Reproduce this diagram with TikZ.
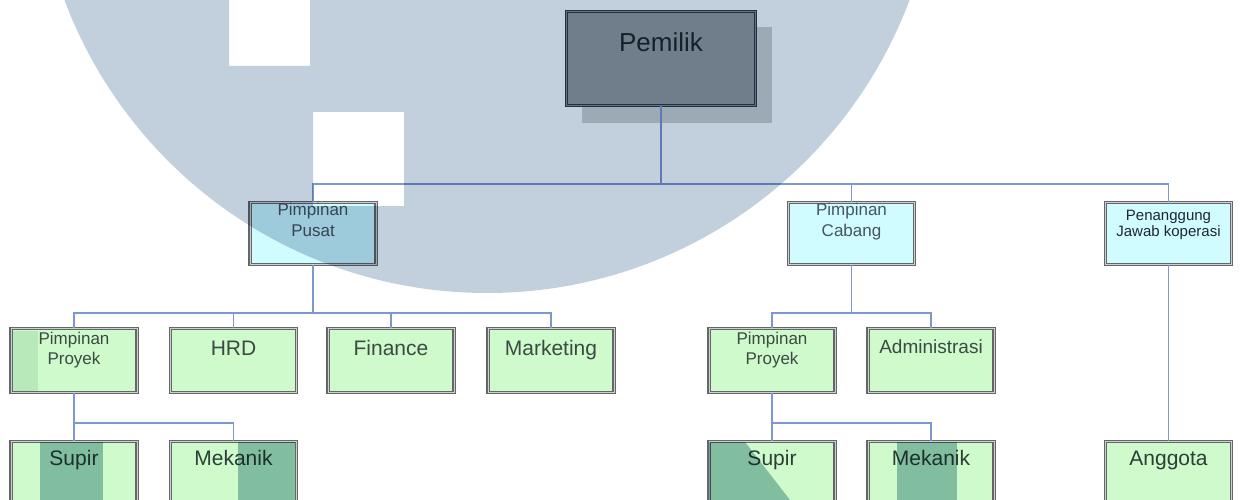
\documentclass[tikz,border=0pt]{standalone}
\usepackage{fontspec}
\setmainfont{Liberation Sans}
\definecolor{lineblue}{RGB}{125,150,212}
\definecolor{boxline}{RGB}{100,102,104}
\definecolor{boxgap}{RGB}{205,207,208}
\definecolor{cyanfill}{RGB}{208,251,255}
\definecolor{greenfill}{RGB}{206,250,204}
\definecolor{pemfill}{RGB}{146,156,161}
\definecolor{pemline}{RGB}{45,60,75}
\definecolor{pemgap}{RGB}{130,142,152}
\definecolor{pemshadow}{RGB}{206,210,212}
\definecolor{wmark}{RGB}{194,207,220}
\definecolor{wletter}{RGB}{160,194,200}
\definecolor{wletterlight}{RGB}{228,238,234}
\definecolor{txtcyan}{RGB}{70,85,95}
\definecolor{txtgreen}{RGB}{60,74,66}
\definecolor{txtdark}{RGB}{45,62,54}
\definecolor{txtpem}{RGB}{30,40,50}
\tikzset{
  conn/.style={draw=lineblue, line width=1.2pt},
  orgbox/.style={rectangle, draw=boxline, double=boxgap, line width=1.1pt, double distance=0.9pt, inner sep=0pt},
  lvltwo/.style={orgbox, fill=cyanfill, minimum width=126pt, minimum height=62pt},
  lvlthree/.style={orgbox, fill=greenfill, minimum width=126pt, minimum height=64pt},
  txt/.style={align=center, inner sep=0pt},
}
\begin{document}
\begin{tikzpicture}[x=1pt,y=-1pt]
\useasboundingbox (0,0) rectangle (1243,500);
\clip (0,0) rectangle (1243,500);
\fill[white] (0,0) rectangle (1243,500);

% Pemilik
\fill[pemshadow] (582,27) rectangle (772,123);
\node[rectangle, draw=pemline, double=pemgap, line width=1.1pt, double distance=1.2pt, fill=pemfill,
      minimum width=189pt, minimum height=94pt, inner sep=0pt] (pem) at (661,58.5) {};

% level 2
\node[lvltwo] (pusat) at (313,233.5) {};
\node[lvltwo] (cabang) at (851.5,233.5) {};
\node[lvltwo] (pj) at (1168.5,233.5) {};

% level 3
\node[lvlthree] (pp1) at (74,360.5) {};
\node[lvlthree] (hrd) at (233.5,360.5) {};
\node[lvlthree] (fin) at (391,360.5) {};
\node[lvlthree] (mkt) at (551,360.5) {};
\node[lvlthree] (pp2) at (772,360.5) {};
\node[lvlthree] (adm) at (931,360.5) {};

% level 4
\node[lvlthree] (sup1) at (74,473.5) {};
\node[lvlthree] (mek1) at (233.5,473.5) {};
\node[lvlthree] (sup2) at (772,473.5) {};
\node[lvlthree] (mek2) at (931,473.5) {};
\node[lvlthree] (ang) at (1168.5,473.5) {};

% connectors
\draw[conn] (pem.south) -- ++(0,78) coordinate (busa);
\draw[conn] (busa) -| (pusat.north);
\draw[conn] (busa) -| (cabang.north);
\draw[conn] (busa) -| (pj.north);
\draw[conn] (pusat.south) -- ++(0,48) coordinate (busb);
\draw[conn] (busb) -| (pp1.north);
\draw[conn] (busb) -| (hrd.north);
\draw[conn] (busb) -| (fin.north);
\draw[conn] (busb) -| (mkt.north);
\draw[conn] (cabang.south) -- ++(0,48) coordinate (busc);
\draw[conn] (busc) -| (pp2.north);
\draw[conn] (busc) -| (adm.north);
\draw[conn] (pp1.south) -- ++(0,30) coordinate (busd);
\draw[conn] (busd) -| (sup1.north);
\draw[conn] (busd) -| (mek1.north);
\draw[conn] (pp2.south) -- ++(0,30) coordinate (buse);
\draw[conn] (buse) -| (sup2.north);
\draw[conn] (buse) -| (mek2.north);
\draw[conn] (pj.south) -- (ang.north);

% texts
\node[txt, text=txtpem, font=\fontsize{26}{30}\selectfont] (pemt) at (661,42) {Pemilik};
\node[txt, text=txtcyan, font=\fontsize{17}{21}\selectfont] (pusatt) at (313,220) {Pimpinan\\Pusat};
\node[txt, text=txtcyan, font=\fontsize{17}{21}\selectfont] (cabangt) at (851.5,221.5) {Pimpinan\\Cabang};
\node[txt, text=txtpem, font=\fontsize{15}{16}\selectfont] (pjt) at (1168.5,225) {Penanggung\\Jawab koperasi};
\node[txt, text=txtgreen, font=\fontsize{17}{20}\selectfont] (pp1t) at (74,350) {Pimpinan\\Proyek};
\node[txt, text=txtgreen, font=\fontsize{21}{24}\selectfont, anchor=base] (hrdt) at (233.5,355) {HRD};
\node[txt, text=txtgreen, font=\fontsize{21}{24}\selectfont, anchor=base] (fint) at (391,355) {Finance};
\node[txt, text=txtgreen, font=\fontsize{21}{24}\selectfont, anchor=base] (mktt) at (551,355) {Marketing};
\node[txt, text=txtgreen, font=\fontsize{17}{20}\selectfont] (pp2t) at (772,350) {Pimpinan\\Proyek};
\node[txt, text=txtgreen, font=\fontsize{19}{22}\selectfont, anchor=base] (admt) at (931,353) {Administrasi};
\node[txt, text=txtdark, font=\fontsize{21}{24}\selectfont, anchor=base] (sup1t) at (74,465) {Supir};
\node[txt, text=txtdark, font=\fontsize{21}{24}\selectfont, anchor=base] (mek1t) at (233.5,465) {Mekanik};
\node[txt, text=txtdark, font=\fontsize{21}{24}\selectfont, anchor=base] (sup2t) at (772,465) {Supir};
\node[txt, text=txtdark, font=\fontsize{21}{24}\selectfont, anchor=base] (mek2t) at (931,465) {Mekanik};
\node[txt, text=txtdark, font=\fontsize{21}{24}\selectfont, anchor=base] (angt) at (1168.5,465) {Anggota};

% watermark
\begin{scope}[blend mode=multiply]
  \fill[wmark, even odd rule] (487,-158) circle[radius=451]
      (229,-5) rectangle (310,66)
      (313,112) rectangle (404,206);
  \fill[wletterlight] (13,331) rectangle (38,391);
  \fill[wletter] (40,442) rectangle (103,500);
  \fill[wletter] (238,442) rectangle (295,500);
  \fill[wletter] (709,442) -- (745,442) -- (790,500) -- (709,500) -- cycle;
  \fill[wletter] (897,442) rectangle (957,500);
\end{scope}
\end{tikzpicture}
\end{document}
